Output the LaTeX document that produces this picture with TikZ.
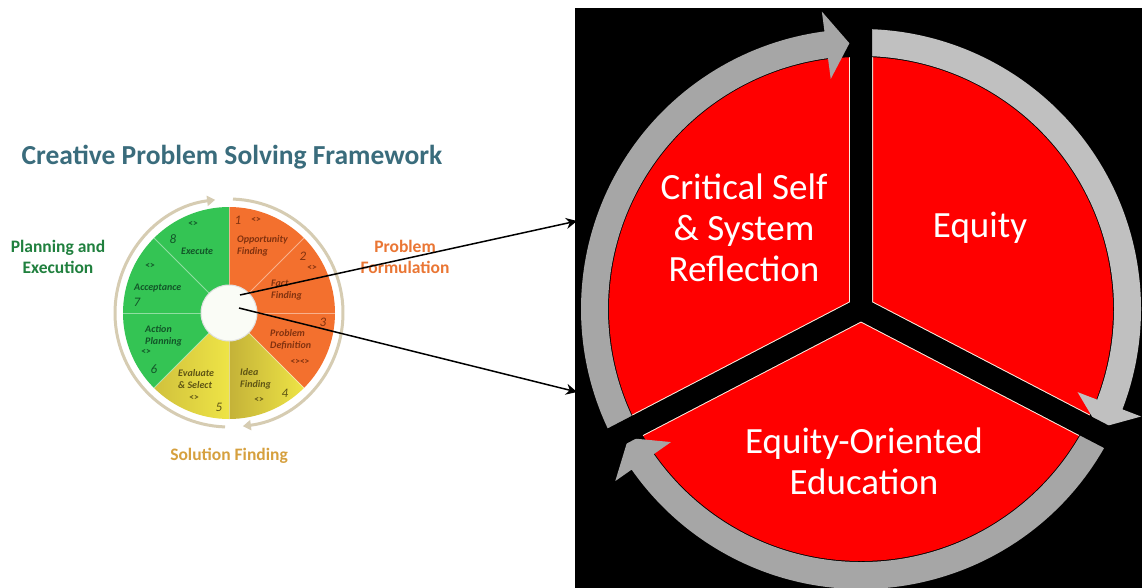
\documentclass[tikz,border=0pt]{standalone}
\usepackage{fontspec}
\setmainfont{Carlito}
\usepackage{tikz}
\usetikzlibrary{arrows.meta}

\definecolor{titleblue}{RGB}{58,108,124}
\definecolor{plangreen}{RGB}{32,128,62}
\definecolor{formorange}{RGB}{234,118,52}
\definecolor{solgold}{RGB}{214,160,62}
\definecolor{segorange}{RGB}{243,112,46}
\definecolor{seggreen}{RGB}{52,196,84}
\definecolor{segyellow}{RGB}{238,228,70}
\definecolor{segolive}{RGB}{196,178,56}
\definecolor{ringtan}{RGB}{214,204,178}
\definecolor{hubwhite}{RGB}{250,252,246}
\definecolor{ringdark}{RGB}{166,166,166}
\definecolor{ringlight}{RGB}{192,192,192}
\definecolor{edgecream}{RGB}{255,236,222}
\definecolor{txtorange}{RGB}{130,50,15}
\definecolor{txtgreen}{RGB}{18,85,40}
\definecolor{txtolive}{RGB}{95,85,20}

% grey ring arrow: colour, start angle, head base angle, tip angle
\newcommand{\ringarrow}[4]{%
  \fill[#1] (#2:280) arc[start angle=#2,end angle=#3,radius=280] -- (#3:300)
    -- (#4:266) -- (#3:232) -- (#3:253) arc[start angle=#3,end angle=#2,radius=253] -- cycle;}

\begin{document}
\begin{tikzpicture}[x=1pt,y=1pt]
  \useasboundingbox (0,0) rectangle (1142,-588);
  \fill[white] (0,0) rectangle (1142,-588);

  % creative problem solving wheel
  \begin{scope}[shift={(229,-313)}]
    \fill[segorange] (0,0) -- (90:106) arc[start angle=90,end angle=-45,radius=106] -- cycle;
    \shade[left color=segolive, right color=segyellow] (0,0) -- (-45:106) arc[start angle=-45,end angle=-90,radius=106] -- cycle;
    \shade[left color=segolive!70!segyellow, right color=segyellow] (0,0) -- (-90:106) arc[start angle=-90,end angle=-135,radius=106] -- cycle;
    \fill[seggreen] (0,0) -- (-135:106) arc[start angle=-135,end angle=-270,radius=106] -- cycle;
    \foreach \a in {0,45,...,315}
      \draw[white,opacity=.45,line width=.8] (0,0) -- (\a:106);
    \draw[ringtan,line width=3,-{Triangle[length=8,width=10]}] (88:114) arc[start angle=88,end angle=-83,radius=114];
    \draw[ringtan,line width=3,-{Triangle[length=8,width=10]}] (-92:114) arc[start angle=-92,end angle=-263,radius=114];
  \end{scope}
  \node[circle,fill=hubwhite,draw=black!12,line width=1,minimum size=56,inner sep=0] (hub) at (229,-313) {};

  \begin{scope}[every node/.style={font=\fontsize{17.5}{21}\selectfont\bfseries,align=center}]
    \node[text=titleblue,font=\fontsize{27.5}{30}\selectfont\bfseries] (title) at (232,-157) {Creative Problem Solving Framework};
    \node[text=plangreen] (plan) at (58,-257) {Planning and\\Execution};
    \node[text=formorange] (form) at (405,-257) {Problem\\Formulation};
    \node[text=solgold] (sol) at (229,-456) {Solution Finding};
  \end{scope}

  % sector labels
  \begin{scope}[every node/.style={font=\fontsize{10}{12}\selectfont\bfseries\itshape,align=left,anchor=west,inner sep=0}]
    \node[text=txtorange] (opp) at (237,-246) {Opportunity\\Finding};
    \node[text=txtorange] (fact) at (271,-290) {Fact\\Finding};
    \node[text=txtorange] (pdef) at (270,-340) {Problem\\Definition};
    \node[text=txtolive] (idea) at (240,-379) {Idea\\Finding};
    \node[text=txtolive] (eval) at (178,-379) {Evaluate\\\& Select};
    \node[text=txtgreen] (act) at (145,-336) {Action\\Planning};
    \node[text=txtgreen] (acc) at (134,-288) {Acceptance};
    \node[text=txtgreen] (exe) at (181,-251) {Execute};
  \end{scope}
  \begin{scope}[every node/.style={font=\fontsize{13}{13}\selectfont\itshape,inner sep=0}]
    \node[text=txtorange] (n1) at (238,-220) {1};
    \node[text=txtorange] (n2) at (303,-256) {2};
    \node[text=txtorange] (n3) at (323,-322) {3};
    \node[text=txtolive] (n4) at (285,-393) {4};
    \node[text=txtolive] (n5) at (219,-407) {5};
    \node[text=txtgreen] (n6) at (154,-369) {6};
    \node[text=txtgreen] (n7) at (137,-302) {7};
    \node[text=txtgreen] (n8) at (173,-239) {8};
  \end{scope}
  \begin{scope}[every node/.style={font=\fontsize{9.5}{9.5}\selectfont\bfseries,inner sep=0}]
    \node[text=txtorange] (c1) at (256,-220) {<>};
    \node[text=txtorange] (c2) at (312,-268) {<>};
    \node[text=txtorange] (c3) at (300,-362) {<><>};
    \node[text=txtolive] (c4) at (259,-400) {<>};
    \node[text=txtolive] (c5) at (194,-398) {<>};
    \node[text=txtgreen] (c6) at (146,-352) {<>};
    \node[text=txtgreen] (c7) at (150,-266) {<>};
    \node[text=txtgreen] (c8) at (193,-224) {<>};
  \end{scope}

  % equity cycle
  \fill[black] (575,-8) rectangle (1142,-588);
  \begin{scope}[shift={(861,-309)}]
    \fill[red] (0,0) circle (252);
    \begin{scope}
      \clip (0,0) circle (252);
      \draw[edgecream,line width=24] (0,0) -- (90:300) (0,0) -- (-27.5:300) (0,0) -- (207.5:300);
    \end{scope}
    \ringarrow{ringdark}{209}{97.5}{92.5}
    \ringarrow{ringlight}{89}{-21}{-26.6}
    \ringarrow{ringdark}{-28}{-145}{-151}
    \draw[black,line width=22] (0,0) -- (90:299) (0,0) -- (-27.5:300) (0,0) -- (207.5:300);
    \fill[black] (0,0) circle (11);
  \end{scope}

  \begin{scope}[every node/.style={text=white,font=\fontsize{37}{41}\selectfont,align=center}]
    \node (crit) at (744,-228) {Critical Self\\\& System\\Reflection};
    \node (equ) at (980,-228) {Equity};
    \node (eoe) at (864,-461) {Equity-Oriented\\Education};
  \end{scope}

  \coordinate (hubA) at (240,-295);
  \coordinate (hubB) at (239,-308);
  \coordinate (tipA) at (577,-221);
  \coordinate (tipB) at (577,-392);
  \begin{scope}[>={Stealth[length=11,width=11]},
                every edge/.style={draw=black,line width=1.5}]
    \path [->] (hubA) edge (tipA);
    \path [->] (hubB) edge (tipB);
  \end{scope}
\end{tikzpicture}
\end{document}
